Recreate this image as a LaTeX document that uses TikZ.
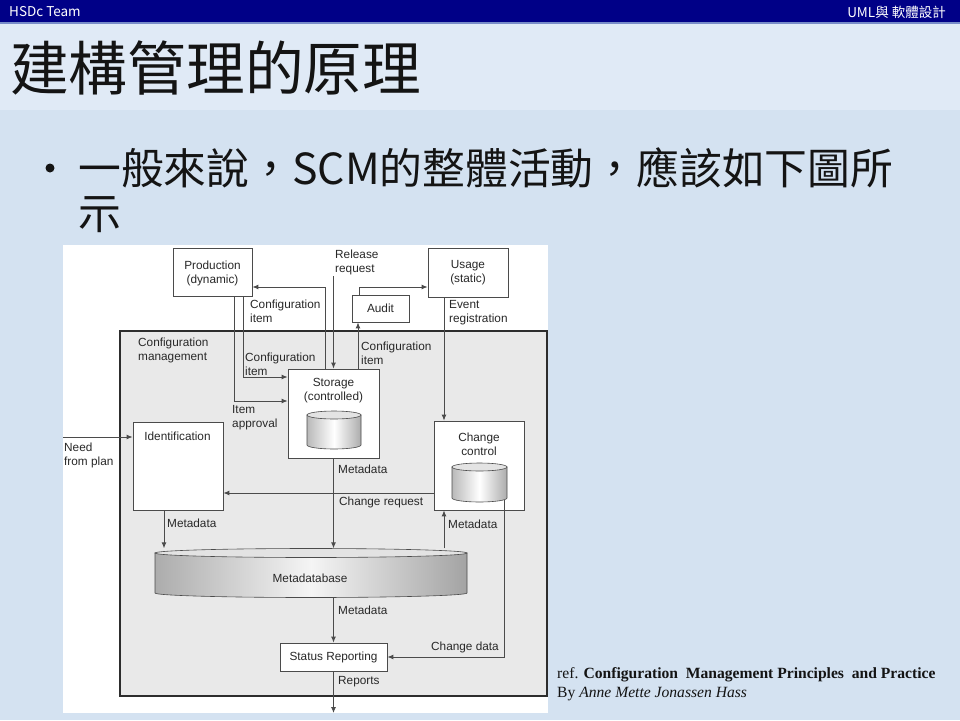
\documentclass[tikz,border=0pt]{standalone}
\usepackage{fontspec}
\setmainfont{Liberation Sans}
\newfontfamily\cjkf{Noto Sans CJK TC}
\newfontfamily\tnr{Liberation Serif}
\usetikzlibrary{arrows.meta,positioning,calc}
\definecolor{bgc}{RGB}{212,226,241}
\definecolor{bandc}{RGB}{224,234,246}
\definecolor{barc}{RGB}{0,0,135}
\definecolor{barline}{RGB}{120,140,200}
\definecolor{titlec}{RGB}{20,20,20}
\definecolor{linec}{RGB}{75,75,75}
\definecolor{textc}{RGB}{40,40,40}
\definecolor{cmfill}{RGB}{233,233,233}
\definecolor{cmborder}{RGB}{45,45,45}
\newcommand\mycyl[6]{%
  \shadedraw[#6] (#1-#2,#3) -- (#1-#2,#4) arc[start angle=180,end angle=360,x radius=#2pt,y radius=#5pt] -- (#1+#2,#3) -- cycle;
  \filldraw[draw=linec, line width=0.6pt, fill=gray!22] (#1,#3) ellipse[x radius=#2pt, y radius=#5pt];}
\begin{document}
\begin{tikzpicture}[x=1pt,y=-1pt,
  hdr/.style={font=\cjkf\fontsize{13.5}{15}\selectfont, text=white, inner sep=0pt},
  box/.style={draw=linec, fill=white, line width=0.8pt, inner sep=0pt},
  lbl/.style={font=\fontsize{11.8}{14}\selectfont, text=textc, inner sep=0pt},
  lbll/.style={lbl, anchor=west, align=left},
  arr/.style={draw=linec, line width=0.9pt, -{Latex[length=6pt,width=5pt]}},
  smallcyl/.style={draw=linec, line width=0.6pt, left color=gray!55, right color=gray!65, middle color=white},
  bigcyl/.style={draw=linec, line width=0.6pt, left color=gray!65, right color=gray!72, middle color=gray!8},
  bodyt/.style={font=\cjkf\fontsize{42.8}{47}\selectfont, text=titlec, inner sep=0pt, anchor=west}
]
\useasboundingbox (0,0) rectangle (960,720);
% background
\fill[bgc] (0,0) rectangle (960,720);
\fill[bandc] (0,24) rectangle (960,110);
\fill[barc] (0,0) rectangle (960,22);
\fill[barline] (0,22) rectangle (960,24);
\node[hdr, anchor=west] (team) at (9,12) {HSDc Team};
\node[hdr, anchor=east] (course) at (946,12) {UML與 軟體設計};
% title and bullet
\node[anchor=west, font=\cjkf\fontsize{58.7}{60}\selectfont, text=titlec, inner sep=0pt] (title) at (10,68) {建構管理的原理};
\fill[titlec] (50,168) circle (4.5pt);
\node[bodyt] (b1) at (78,168) {一般來說，SCM的整體活動，應該如下圖所};
\node[bodyt] (b2) at (78,215) {示};
% figure panel
\fill[white] (63,245) rectangle (548,713);
\draw[draw=cmborder, fill=cmfill, line width=1.8pt] (120,331) rectangle (547,696);
% boxes
\node[box, minimum width=79pt, minimum height=48pt] (prod) at (212.5,272) {};
\node[box, minimum width=80pt, minimum height=49pt] (usage) at (468,272.5) {};
\node[box, minimum width=57pt, minimum height=27pt] (audit) at (380.5,308.5) {};
\node[box, minimum width=91pt, minimum height=89pt] (storage) at (333.5,413.5) {};
\node[box, minimum width=90pt, minimum height=88pt] (ident) at (178,466) {};
\node[box, minimum width=90pt, minimum height=89pt] (cc) at (479,465.5) {};
\node[box, minimum width=107pt, minimum height=28pt] (status) at (333.5,657) {};
\node[inner sep=0pt, minimum width=312pt, minimum height=49pt] (mdb) at (311,573) {};
% box texts
\node[lbl, align=center] (prodt) at (212.5,273) {Production\\(dynamic)};
\node[lbl, align=center] (usaget) at (468,273) {Usage\\(static)};
\node[lbl] (auditt) at (audit) {Audit};
\node[lbl, align=center] (storaget) at (333.5,391) {Storage\\(controlled)};
\node[lbl] (identt) at (177.5,436) {Identification};
\node[lbl, align=center] (cct) at (479,444) {Change\\control};
\node[lbl] (statust) at (status) {Status Reporting};
% cylinders
\mycyl{334}{27}{415}{445}{4}{smallcyl}
\mycyl{479.5}{27.5}{467}{498}{4}{smallcyl}
\mycyl{311}{156}{553}{593}{4.5}{bigcyl}
\node[lbl] (mdbt) at (310,578) {Metadatabase};
% free ends
\coordinate (rr) at (333.5,276);
\coordinate (nfp) at (63,437);
\coordinate (cd) at (504,500);
\coordinate (rep) at (333.5,713);
% connectors
\draw[arr] ([xshift=21.5pt]prod.south) |- ([yshift=12.5pt]storage.west);
\draw[arr] ([xshift=30.5pt]prod.south) |- ([yshift=36.5pt]storage.west);
\draw[arr] ([xshift=-8.5pt]storage.north) |- ([yshift=-15pt]prod.east);
\draw[arr] (rr) -- (storage.north);
\draw[arr] ([xshift=24.5pt]storage.north) -- ([xshift=24.5pt]storage.north |- audit.south);
\draw[arr] ([xshift=-21.5pt]audit.north) |- ([yshift=-14.5pt]usage.west);
\draw[arr] ([xshift=-24pt]usage.south) -- ([xshift=-24pt]usage.south |- cc.north);
\draw[arr] ([yshift=-27.5pt]cc.west) -- ([yshift=-27.5pt]cc.west -| ident.east);
\draw[arr] (storage.south) -- (storage.south |- mdb.north);
\draw[arr] ([xshift=-14pt]ident.south) -- ([xshift=-14pt]ident.south |- mdb.north);
\draw[arr] ([xshift=-35pt]cc.south |- mdb.north) -- ([xshift=-35pt]cc.south);
\draw[arr] (mdb.south -| status.north) -- (status.north);
\draw[arr] (cd) |- (status.east);
\draw[arr] (status.south) -- (rep);
\draw[arr] (nfp) -- (nfp -| ident.west);
% connector labels
\node[lbll] (l1) at (250,311) {Configuration\\item};
\node[lbll] (l2) at (245,364) {Configuration\\item};
\node[lbll] (l3) at (232,418) {Item\\approval};
\node[lbll] (l4) at (335,262) {Release\\request};
\node[lbll] (l5) at (361,353) {Configuration\\item};
\node[lbll] (l6) at (449,313) {Event\\registration};
\node[lbll] (l7) at (138,350) {Configuration\\management};
\node[lbll] (l8) at (64,455) {Need\\from plan};
\node[lbll] (l9) at (339,502) {Change request};
\node[lbll] (l10) at (338,469) {Metadata};
\node[lbll] (l11) at (167,523) {Metadata};
\node[lbll] (l12) at (448,524) {Metadata};
\node[lbll] (l13) at (338,610) {Metadata};
\node[lbll] (l14) at (431,647) {Change data};
\node[lbll] (l15) at (338,682) {Reports};
% reference
\node[anchor=west, inner sep=0pt, font=\tnr\fontsize{15.6}{18}\selectfont, text=titlec] (ref1) at (557,675) {ref. \textbf{Configuration\ \ Management Principles\ \ and Practice}};
\node[anchor=west, inner sep=0pt, font=\tnr\fontsize{15.6}{18}\selectfont, text=titlec] (ref2) at (557,694) {By \textit{Anne Mette Jonassen Hass}};
\end{tikzpicture}
\end{document}
